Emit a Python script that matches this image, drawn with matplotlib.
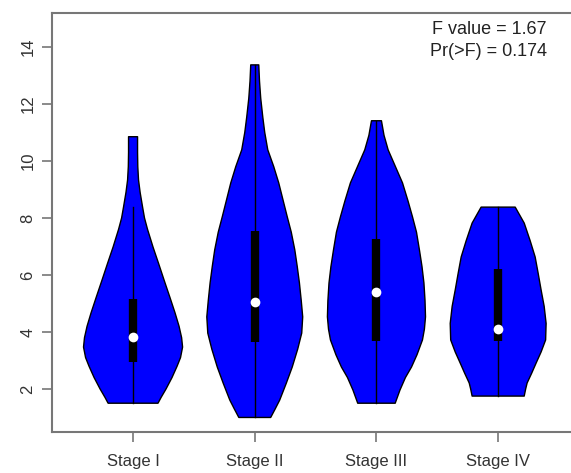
import numpy as np
import matplotlib
matplotlib.use("Agg")
import matplotlib.pyplot as plt

plt.rcParams['font.family'] = ['Liberation Sans', 'DejaVu Sans']

# Categorías y perfiles de los violines (semi-anchos en unidades de x)
stages = ["Stage I", "Stage II", "Stage III", "Stage IV"]

y_I = [1.5, 1.7, 2.0, 2.4, 2.8, 3.1, 3.47, 3.8, 4.2, 4.67, 5.2, 5.82, 6.4, 6.98,
       7.6, 8.0, 8.39, 8.9, 9.33, 9.8, 10.3, 10.85]
w_I = [0.205, 0.230, 0.271, 0.320, 0.362, 0.390, 0.407, 0.399, 0.378, 0.345, 0.304,
       0.255, 0.210, 0.164, 0.119, 0.094, 0.078, 0.058, 0.045, 0.039, 0.037, 0.037]

y_II = [1.0, 1.3, 1.61, 2.2, 2.77, 3.4, 3.96, 4.53, 5.1, 5.72, 6.3, 6.88, 7.5, 8.04,
        8.6, 9.23, 9.8, 10.39, 11.0, 11.54, 12.2, 12.8, 13.37]
w_II = [0.131, 0.168, 0.205, 0.259, 0.308, 0.353, 0.386, 0.394, 0.382, 0.367, 0.349,
        0.329, 0.300, 0.267, 0.234, 0.197, 0.156, 0.107, 0.082, 0.066, 0.049, 0.039, 0.033]

y_III = [1.5, 1.96, 2.4, 2.77, 3.2, 3.72, 4.1, 4.53, 5.1, 5.72, 6.3, 6.88, 7.5, 8.04,
         8.6, 9.23, 9.8, 10.39, 10.9, 11.41]
w_III = [0.154, 0.193, 0.238, 0.288, 0.333, 0.378, 0.394, 0.403, 0.399, 0.390, 0.374,
         0.353, 0.329, 0.296, 0.259, 0.214, 0.156, 0.096, 0.062, 0.041]

y_IV = [1.75, 2.0, 2.21, 2.55, 2.91, 3.3, 3.72, 4.3, 4.9, 5.47, 6.05, 6.63, 7.2, 7.82, 8.1, 8.38]
w_IV = [0.214, 0.226, 0.238, 0.275, 0.312, 0.353, 0.390, 0.394, 0.378, 0.353, 0.329,
        0.304, 0.263, 0.214, 0.177, 0.140]

# Estadísticos de las cajas
q1 = [2.95, 3.65, 3.68, 3.70]
q3 = [5.16, 7.54, 7.26, 6.21]
medians = [3.82, 5.05, 5.39, 4.1]
whisk_lo = [1.5, 1.0, 1.5, 1.75]
whisk_hi = [8.39, 13.37, 11.41, 8.38]

anova_text = ["F value = 1.67", "Pr(>F) = 0.174"]

profiles = [(y_I, w_I), (y_II, w_II), (y_III, w_III), (y_IV, w_IV)]

fig = plt.figure(figsize=(5.71, 4.73), dpi=100)
ax = fig.add_axes([52 / 571, 41 / 473, 526 / 571, 419 / 473])

for i, (yy, ww) in enumerate(profiles):
    pos = i + 1
    yy = np.array(yy)
    ww = np.array(ww)
    xs = np.concatenate([pos - ww, (pos + ww)[::-1]])
    ys = np.concatenate([yy, yy[::-1]])
    ax.fill(xs, ys, facecolor="#0000ff", edgecolor="black", linewidth=1.0,
            joinstyle="round", zorder=2)
    # Bigotes
    ax.plot([pos, pos], [whisk_lo[i], whisk_hi[i]], color="black", linewidth=1.0, zorder=3)
    # Caja
    ax.plot([pos, pos], [q1[i], q3[i]], color="black", linewidth=6, solid_capstyle="butt", zorder=4)
    # Mediana
    ax.plot(pos, medians[i], "o", color="white", markersize=7, markeredgewidth=0, zorder=5)

ax.set_xlim(0.334, 4.656)
ax.set_ylim(0.49, 15.19)
ax.set_xticks(range(1, 5))
ax.set_xticklabels(stages)
ax.set_yticks([2, 4, 6, 8, 10, 12, 14])
for lbl in ax.get_yticklabels():
    lbl.set_rotation(90)
    lbl.set_va("center")

ax.tick_params(axis="both", direction="out", length=7, width=1.2, color="#777777",
               labelsize=12, labelcolor="#333333", pad=5)
ax.tick_params(axis="x", pad=9)
for sp in ax.spines.values():
    sp.set_color("#777777")
    sp.set_linewidth(1.5)

ax.text(4.4, 14.6, anova_text[0], ha="right", va="center", fontsize=13, color="#222222")
ax.text(4.4, 13.85, anova_text[1], ha="right", va="center", fontsize=13, color="#222222")

fig.savefig("out.png", dpi=100)
